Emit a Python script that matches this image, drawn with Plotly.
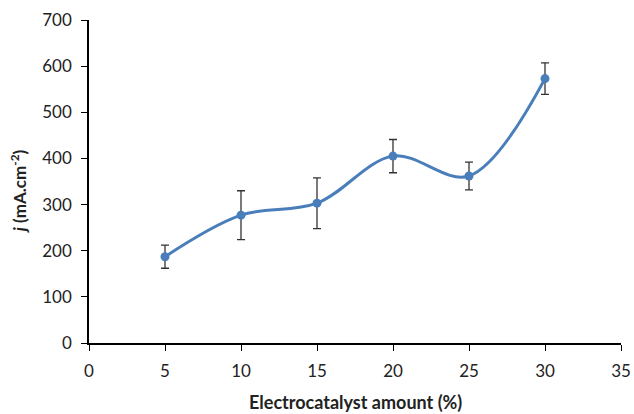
import plotly.graph_objects as go

x_vals = [5, 10, 15, 20, 25, 30]
j_vals = [187, 277, 303, 405, 362, 573]
err_vals = [25, 53, 55, 36, 30, 34]

x_ticks = [0, 5, 10, 15, 20, 25, 30, 35]
y_ticks = [0, 100, 200, 300, 400, 500, 600, 700]

fig = go.Figure()
fig.add_trace(go.Scatter(
    x=x_vals, y=j_vals,
    mode="lines+markers",
    line=dict(color="#4A7EBB", width=3, shape="spline", smoothing=1),
    marker=dict(color="#4A7EBB", size=9),
    error_y=dict(type="data", array=err_vals, visible=True,
                 color="#333333", thickness=1.3, width=4),
    showlegend=False,
))

font_fam = "Lato, 'Open Sans', sans-serif"
fig.update_layout(
    width=634, height=414,
    margin=dict(l=89, r=13, t=20, b=71),
    plot_bgcolor="white", paper_bgcolor="white",
    font=dict(family=font_fam, size=17, color="#222222"),
    xaxis=dict(
        range=[0, 35], tickvals=x_ticks, ticks="outside", ticklen=6,
        tickcolor="#000", showline=True, linecolor="#000", linewidth=1.5,
        showgrid=False, zeroline=False, automargin=False,
        ticklabelstandoff=6,
    ),
    yaxis=dict(
        range=[0, 700], tickvals=y_ticks, ticks="outside", ticklen=6,
        tickcolor="#000", showline=True, linecolor="#000", linewidth=1.5,
        showgrid=False, zeroline=False, automargin=False,
        ticklabelstandoff=6,
    ),
    annotations=[
        dict(text="<b>Electrocatalyst amount (%)</b>", xref="paper", yref="paper",
             x=0.5, y=0, xanchor="center", yanchor="middle", yshift=-59,
             showarrow=False, font=dict(size=18, color="#222222")),
        dict(text="<b><i>j</i> (mA.cm<sup>-2</sup>)</b>", xref="paper", yref="paper",
             x=0, y=0.47, xanchor="center", yanchor="middle", xshift=-71,
             textangle=-90, showarrow=False, font=dict(size=17, color="#222222")),
    ],
)

fig.write_html("out.html")
